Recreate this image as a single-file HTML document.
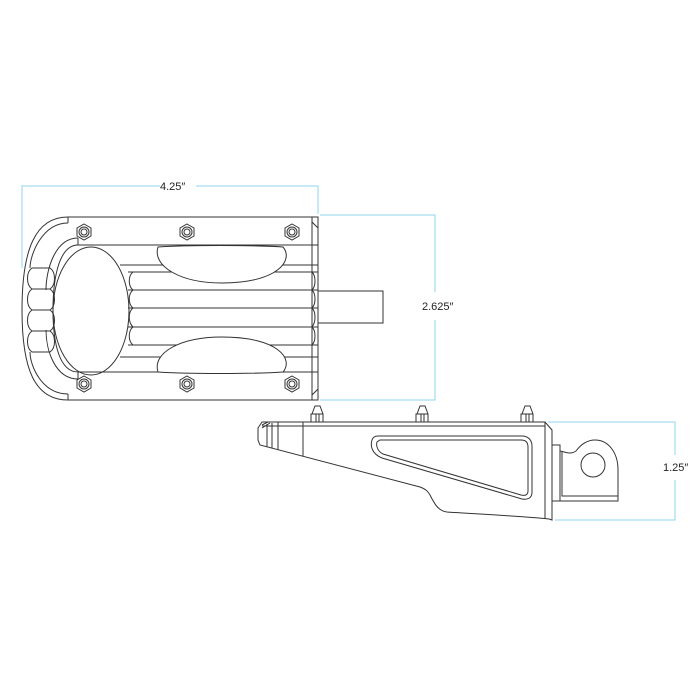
<!DOCTYPE html>
<html><head><style>
html,body{margin:0;padding:0;background:#fff;}
svg{display:block;}
text{font-family:"Liberation Sans",sans-serif;font-size:11px;fill:#222;}
</style></head><body>
<svg width="700" height="700" viewBox="0 0 700 700" xmlns="http://www.w3.org/2000/svg">
<g stroke="#8fd6ee" stroke-width="1" fill="none">
  <path d="M22,268 V186 H160 M196,186 H318 V214"/>
  <path d="M320,215 H435 V292 M435,320 V400 H320"/>
  <path d="M548,422 H675 V455 M675,480 V520 H555"/>
</g>
<text x="160" y="190">4.25″</text>
<text x="422" y="310">2.625″</text>
<text x="663" y="471">1.25″</text>

<g stroke="#333" stroke-width="1" fill="none">
  <path d="M68,217 H318 V400 H68 C35,400 22,370 22,310 C22,250 35,217 68,217 Z"/>
  <path d="M68,223 C42,223 30,255 30,268 M30,352 C30,366 42,394 68,394"/>
  <path d="M68,217 V223 M68,394 V400"/>
  <path d="M78,245 C60,245 53,275 53,310 C53,345 60,372 78,372"/>
  <path d="M78,238 C55,238 46,270 46,290 M46,330 C46,350 55,379 78,379"/>
  <path d="M78,238 V245 M78,372 V379"/>
  <path d="M78,245 H318 M78,372 H318"/>
  <path d="M312,217 V400"/>
  <path d="M312,222 L318,228 M312,395 L318,389"/>
  <ellipse cx="91" cy="311" rx="38" ry="64"/>
  <path d="M128,272 H318 M128,290 H318 M128,308 H318 M128,327 H318 M128,345 H318"/>
  <path d="M120,265 H318 M120,357 H318"/>
  <path d="M133,272 C128,276 128,286 133,290 M133,290 C128,294 128,304 133,308 M133,308 C128,312 128,322 133,327 M133,327 C128,331 128,341 133,345"/>
  <path d="M312,272 C316,276 316,286 312,290 M312,290 C316,294 316,304 312,308 M312,308 C316,312 316,322 312,327 M312,327 C316,331 316,341 312,345"/>
  <path fill="#fff" d="M158,247 C185,245 255,245 283,247 C294,260 278,283 222,283 C180,283 152,266 158,247 Z"/>
  <path fill="#fff" d="M158,372 C185,374 255,374 283,372 C294,359 278,337 222,337 C180,337 152,353 158,372 Z"/>
  <path d="M32,268 H50 C56,272 56,285 50,289 H32 C26,285 26,272 32,268 Z"/>
  <path d="M32,289 H50 C56,293 56,306 50,310 H32 C26,306 26,293 32,289 Z"/>
  <path d="M32,310 H50 C56,314 56,327 50,331 H32 C26,327 26,314 32,310 Z"/>
  <path d="M32,331 H50 C56,335 56,348 50,352 H32 C26,348 26,335 32,331 Z"/>
  <path d="M318,291 H383 V323 H318"/>
  <g id="b">
    <polygon points="84,224 91,228 91,236 84,240 77,236 77,228"/>
    <circle cx="84" cy="232" r="5"/><circle cx="84" cy="232" r="3"/>
  </g>
  <use href="#b" x="103"/><use href="#b" x="208"/>
  <use href="#b" y="152"/><use href="#b" x="103" y="152"/><use href="#b" x="208" y="152"/>

  <path d="M262,422 H545 L552,430 V520 L549,519 C520,516 460,513 447,512 C438,511 434,503 430,495 C427,490 425,489 420,487 L260,445 L258,440 V428 Z"/>
  <path d="M545,422 V519 M262,426 H545"/>
  <path d="M267,424 V447 M272,423 V448 M278,422 V450 M303,422 V456"/>
  <path d="M262,425 L268,422 M262,428 L270,423"/>
  <path d="M378,436 H522 C528,436 532,440 532,446 V492 C532,498 528,500 522,499 L382,458 C372,454 370,446 372,440 C373,437 375,436 378,436 Z"/>
  <path d="M380,440 H521 C526,440 528,443 528,447 V491 C528,495 525,496 521,495 L383,454 C377,451 376,445 377,442 Z"/>
  <path d="M311,422 V414 H323 V422 M312,414 L315,406 H320 L323,414 M316,414 V422 M319,414 V422"/>
  <path d="M416,422 V414 H428 V422 M417,414 L420,406 H425 L428,414 M421,414 V422 M424,414 V422"/>
  <path d="M521,422 V414 H533 V422 M522,414 L525,406 H530 L533,414 M526,414 V422 M529,414 V422"/>
  <path d="M552,445 H560 V501 H552"/>
  <path d="M560,451 C566,452 570,455 576,451 C582,443 588,440 595,440 C608,440 618,452 618,470 V501 H560"/>
  <path d="M562,452 V496 H618"/>
  <circle cx="593" cy="465" r="12"/>
</g>
</svg>
</body></html>
